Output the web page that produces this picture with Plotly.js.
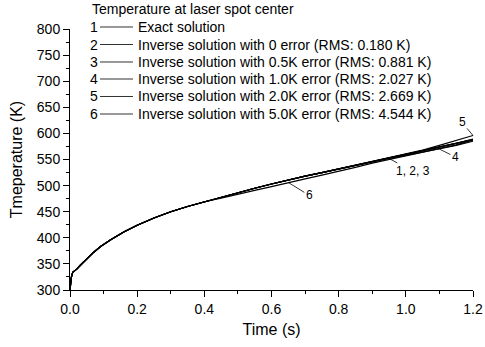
<!DOCTYPE html>
<html>
<head>
<meta charset="utf-8">
<script src="https://cdn.plot.ly/plotly-3.0.1.min.js"></script>
<style>html,body{margin:0;padding:0;background:#fff;}#chart{width:485px;height:347px;}</style>
</head>
<body>
<div id="chart"></div>
<script>
// ---- data ----
var time   = [0, 0.004, 0.008, 0.02, 0.03, 0.05, 0.07, 0.09, 0.12, 0.16, 0.2, 0.25, 0.3, 0.35, 0.4, 0.45, 0.5, 0.55, 0.6, 0.65, 0.7, 0.75, 0.8, 0.85, 0.9, 0.95, 1.0, 1.05, 1.1, 1.15, 1.2];
var exact  = [300, 324, 334, 340, 347, 360, 372, 383, 396, 411, 424, 438, 450, 460, 469, 478, 487, 495, 503, 511, 518, 525, 532, 539, 546, 552, 559, 566, 573, 580, 588];
var err00  = [300, 324, 334, 340, 347, 360, 372, 383, 396, 411, 424, 438, 450, 460, 469, 478, 487, 495, 503, 511, 518, 525, 532, 539, 546, 552, 559, 566, 573, 580, 588];
var err05  = [300, 324, 334, 340, 347, 360, 372, 383, 396, 411, 424, 438, 450, 460, 469, 478, 487, 495, 503, 511, 518, 525, 532, 539, 546, 553, 559, 566, 573, 581, 589];
var err10  = [300, 324, 334, 340, 347, 360, 372, 383, 396, 411, 424, 438, 450, 460, 469, 478, 487, 495, 503, 511, 518, 525, 532, 539, 546, 552, 558, 564, 570, 577, 585];
var err20  = [300, 324, 334, 340, 347, 360, 372, 383, 396, 411, 424, 438, 450, 460, 469, 478, 487, 495, 503, 511, 518, 525, 532, 539, 546, 553, 560, 568, 577, 586, 596];
var err50  = [300, 324, 334, 340, 347, 360, 372, 383, 396, 411, 424, 438, 450, 460, 469, 476, 484, 491, 498, 506, 513, 520, 527, 535, 543, 550, 557, 565, 571, 578, 587];
var seriesNames = ["Exact solution",
  "Inverse solution with 0 error (RMS: 0.180 K)",
  "Inverse solution with 0.5K error (RMS: 0.881 K)",
  "Inverse solution with 1.0K error (RMS: 2.027 K)",
  "Inverse solution with 2.0K error (RMS: 2.669 K)",
  "Inverse solution with 5.0K error (RMS: 4.544 K)"];
var seriesNums = ["1", "2", "3", "4", "5", "6"];
var chartTitle = "Temperature at laser spot center";
var xTicks = [0, 0.2, 0.4, 0.6, 0.8, 1.0, 1.2];
var yTicks = [300, 350, 400, 450, 500, 550, 600, 650, 700, 750, 800];

var allY = [exact, err00, err05, err10, err20, err50];
var FONT = "Liberation Sans, Arial, Helvetica, sans-serif";

var traces = allY.map(function (ys, i) {
  return {x: time, y: ys, type: "scatter", mode: "lines", name: seriesNames[i],
          line: {color: "#000", width: 1.2}, showlegend: false, hoverinfo: "skip"};
});

// key built from annotations + shapes (paper coords)
var annotations = [];
var shapes = [];
annotations.push({xref: "paper", yref: "paper", x: 0.05, y: 1.0766, xanchor: "left", yanchor: "middle",
  text: chartTitle, showarrow: false, font: {family: FONT, size: 14, color: "#000"}});
var rowY = [1.0077, 0.9406, 0.8736, 0.8084, 0.7414, 0.6743];
for (var i = 0; i < seriesNames.length; i++) {
  annotations.push({xref: "paper", yref: "paper", x: 0.0744, y: rowY[i], xanchor: "right", yanchor: "middle",
    text: seriesNums[i], showarrow: false, font: {family: FONT, size: 14, color: "#000"}});
  annotations.push({xref: "paper", yref: "paper", x: 0.1640, y: rowY[i], xanchor: "left", yanchor: "middle",
    text: seriesNames[i], showarrow: false, font: {family: FONT, size: 14, color: "#000"}});
  shapes.push({type: "line", xref: "paper", yref: "paper", x0: 0.0744, x1: 0.1563, y0: rowY[i], y1: rowY[i],
    line: {color: "#333", width: 1}});
}
// curve labels with leader lines
function lbl(txt, idx, series, ax, ay) {
  annotations.push({x: time[idx], y: series[idx], text: txt, showarrow: true, arrowhead: 0, arrowwidth: 0.8,
    arrowcolor: "#000", ax: ax, ay: ay, standoff: 0, font: {family: FONT, size: 12, color: "#000"}});
}
lbl("6", 19, err50, 21, 13);
lbl("1, 2, 3", 25, exact, 24, 13);
lbl("4", 28, err10, 16, 8);
lbl("5", 30, err20, -11, -13);

var layout = {
  width: 485, height: 347,
  margin: {l: 70, r: 12, t: 29, b: 57, pad: 0},
  paper_bgcolor: "#fff", plot_bgcolor: "#fff",
  font: {family: FONT, size: 14, color: "#000"},
  showlegend: false,
  xaxis: {range: [0, 1.2], tickvals: xTicks, ticktext: xTicks.map(function (v) { return v.toFixed(1); }),
    ticks: "outside", ticklen: 6, tickwidth: 1, tickcolor: "#000",
    minor: {dtick: 0.1, tick0: 0, ticks: "outside", ticklen: 3, tickcolor: "#000", showgrid: false},
    showline: true, linecolor: "#000", linewidth: 1, showgrid: false, zeroline: false,
    tickfont: {family: FONT, size: 14, color: "#000"},
    title: {text: "Time (s)", font: {family: FONT, size: 16, color: "#000"}, standoff: 8}},
  yaxis: {range: [300, 800], tickvals: yTicks,
    ticks: "outside", ticklen: 6, tickwidth: 1, tickcolor: "#000",
    minor: {dtick: 25, tick0: 300, ticks: "outside", ticklen: 3, tickcolor: "#000", showgrid: false},
    showline: true, linecolor: "#000", linewidth: 1, showgrid: false, zeroline: false,
    tickfont: {family: FONT, size: 14, color: "#000"},
    title: {text: "Tmeperature (K)", font: {family: FONT, size: 16, color: "#000"}, standoff: 10}},
  annotations: annotations,
  shapes: shapes
};

Plotly.newPlot("chart", traces, layout, {staticPlot: true, displayModeBar: false});
</script>
</body>
</html>
